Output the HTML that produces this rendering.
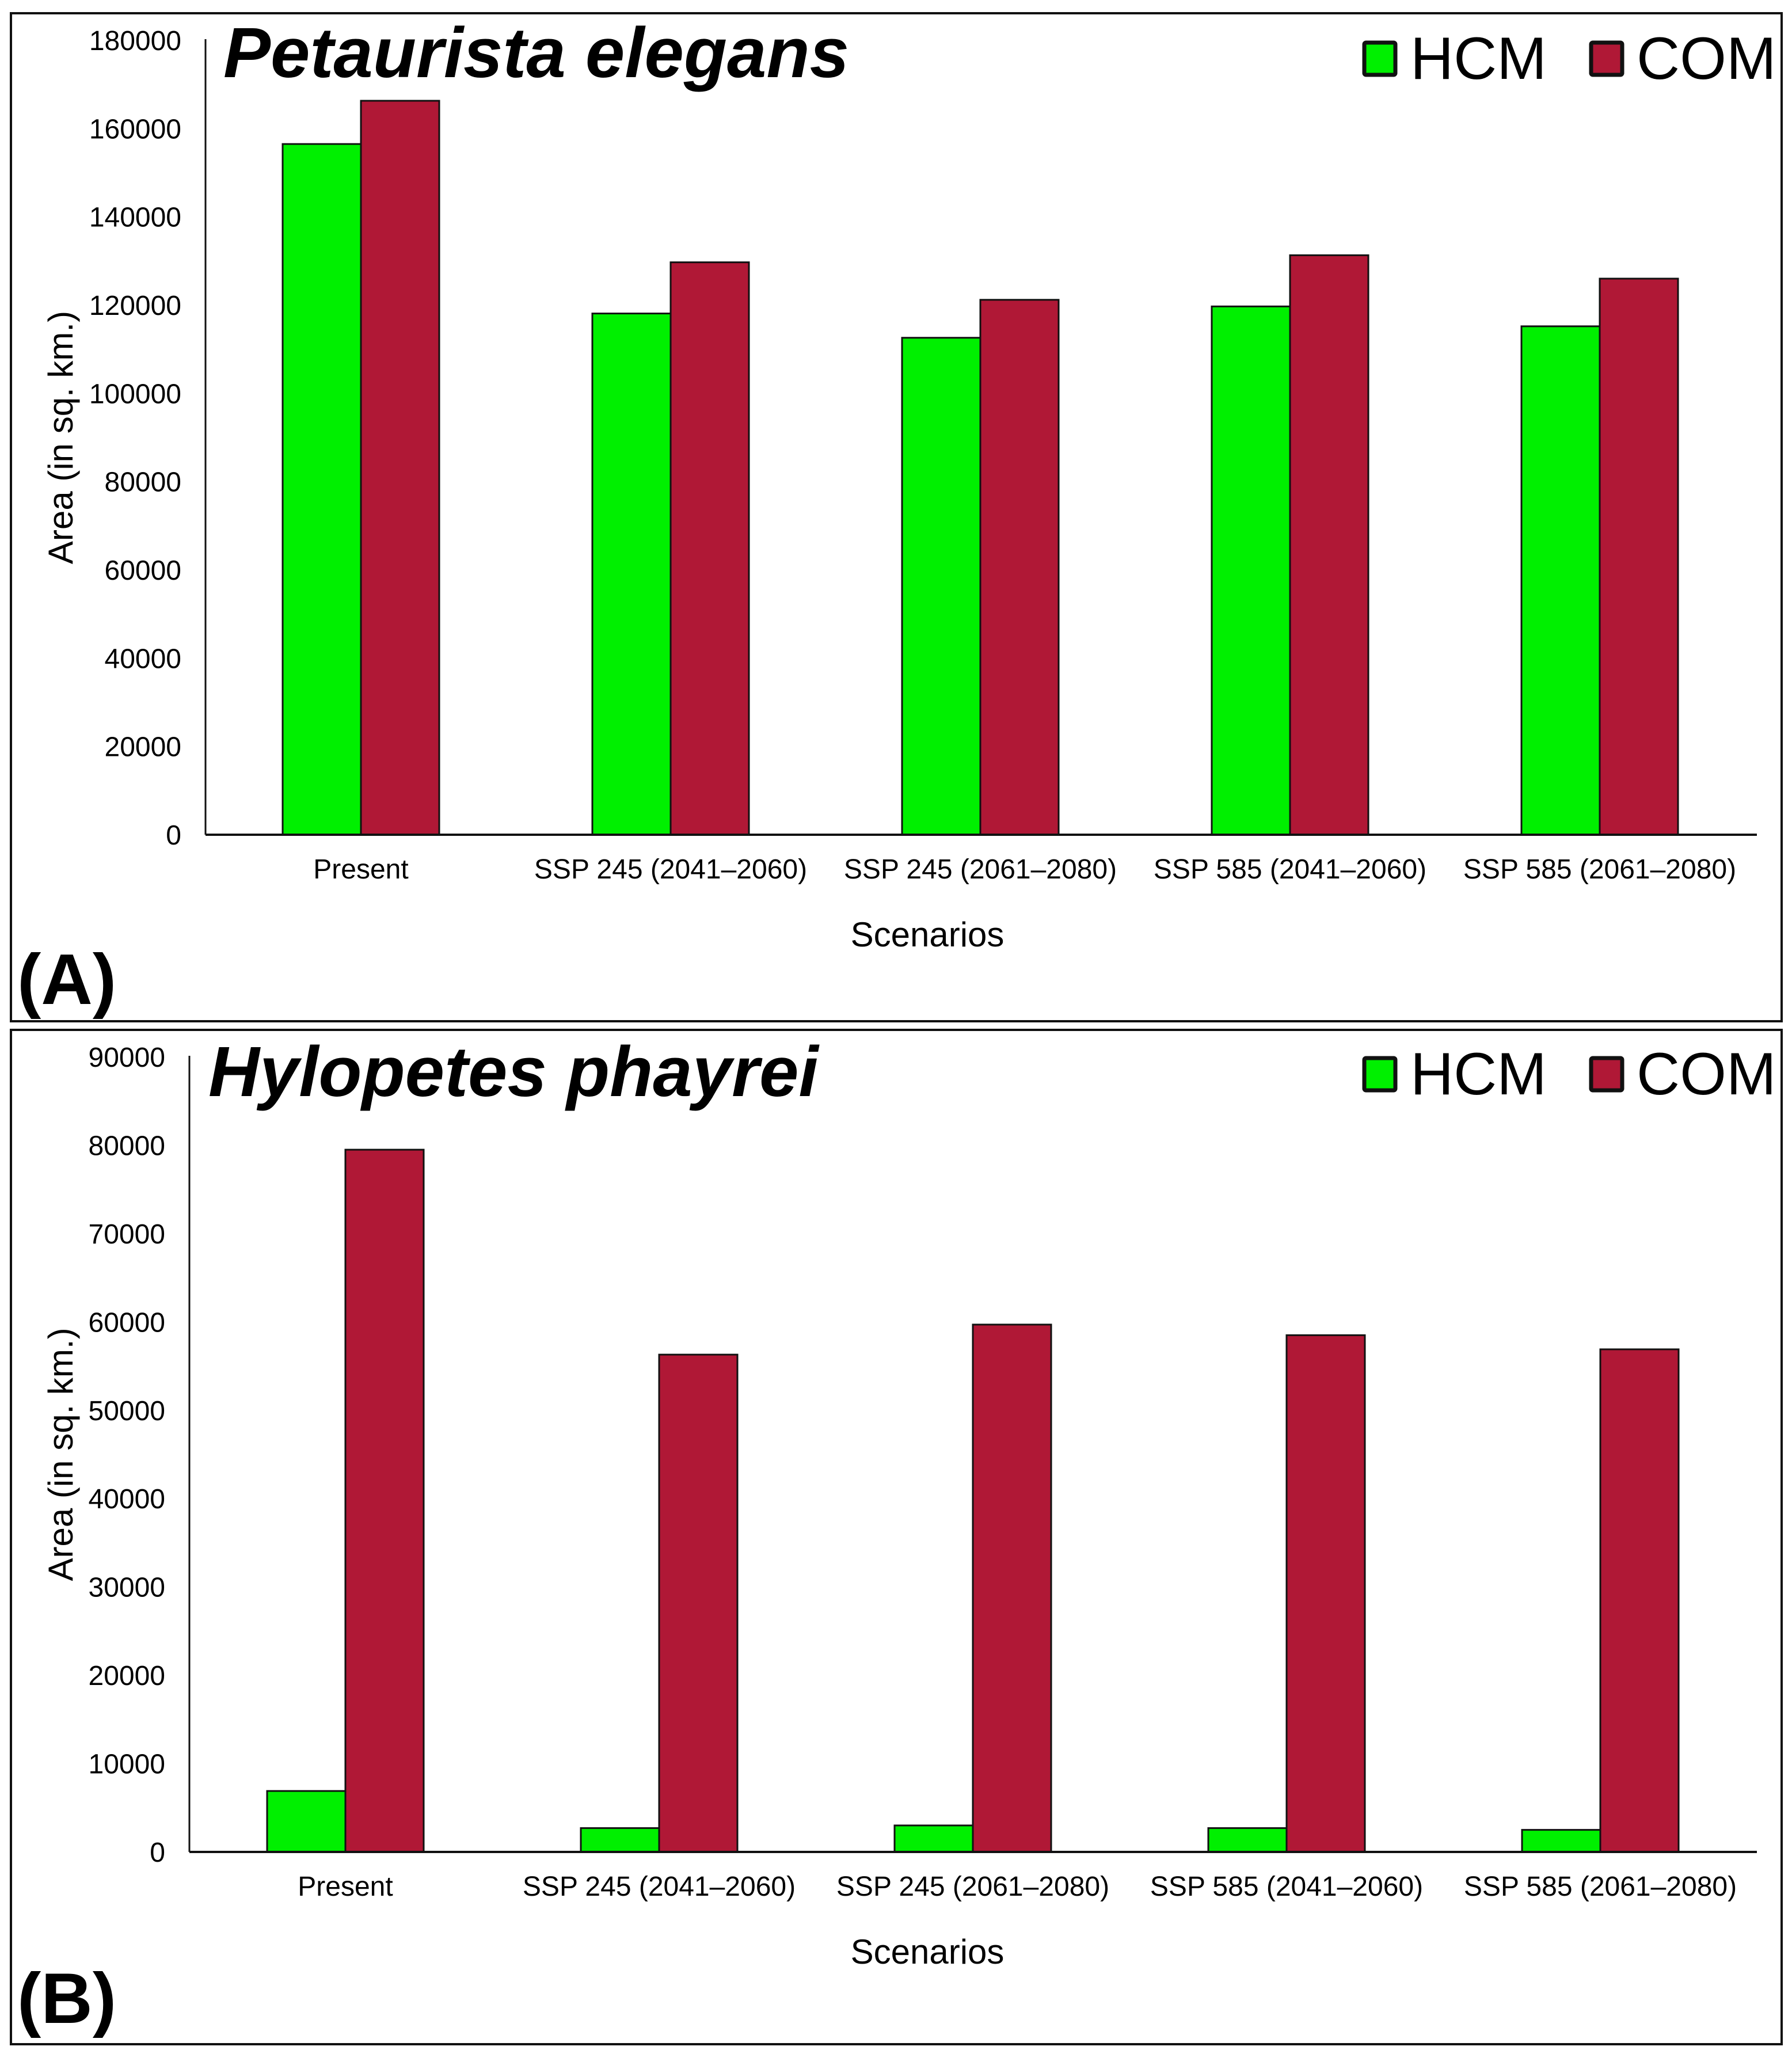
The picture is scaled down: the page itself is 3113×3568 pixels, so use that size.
<!DOCTYPE html>
<html><head><meta charset="utf-8">
<style>
html,body{margin:0;padding:0;background:#fff;}
svg{display:block;font-family:"Liberation Sans",Arial,sans-serif;}
</style></head>
<body>
<svg id="fig" width="3113" height="3568" viewBox="0 0 3113 3568" xmlns="http://www.w3.org/2000/svg">
<rect x="0" y="0" width="3113" height="3568" fill="#fff"/>
<rect x="19" y="23" width="3076" height="1751" fill="none" stroke="#111" stroke-width="4"/>
<rect x="19" y="1789" width="3076" height="1762" fill="none" stroke="#111" stroke-width="4"/>
<g id="panelA"></g>
<g id="panelB"></g>
</svg>
<script>
const categories = ["Present","SSP 245 (2041\u20132060)","SSP 245 (2061\u20132080)","SSP 585 (2041\u20132060)","SSP 585 (2061\u20132080)"];
const hcmA = [156500,118100,112600,119700,115200];
const comA = [166300,129700,121200,131300,126000];
const ticksA = [0,20000,40000,60000,80000,100000,120000,140000,160000,180000];
const hcmB = [6900,2700,3000,2700,2500];
const comB = [79500,56300,59700,58500,56900];
const ticksB = [0,10000,20000,30000,40000,50000,60000,70000,80000,90000];

const NS="http://www.w3.org/2000/svg";
function mk(parent,tag,attrs,text){const e=document.createElementNS(NS,tag);for(const k in attrs)e.setAttribute(k,attrs[k]);if(text!==undefined)e.textContent=text;parent.appendChild(e);return e;}

function drawPanel(g,cfg){
  const yMax=cfg.ticks[cfg.ticks.length-1];
  const y=v=>cfg.y0-(v/yMax)*(cfg.y0-cfg.yTop);
  const x=i=>cfg.c0+i*cfg.step;
  const bw=136;
  cfg.ticks.forEach(t=>{
    const tl=mk(g,'text',{x:cfg.axisX-42,y:y(t)+17,'text-anchor':'end','font-size':48,fill:'#000'},String(t));
    
    
  });
  cfg.hcm.forEach((v,i)=>{
    const r=mk(g,'rect',{x:x(i)-bw,y:y(v),width:bw,height:cfg.y0-y(v),fill:'#00f000',stroke:'#111','stroke-width':3});
    
    
  });
  cfg.com.forEach((v,i)=>{
    const r=mk(g,'rect',{x:x(i),y:y(v),width:bw,height:cfg.y0-y(v),fill:'#b01836',stroke:'#111','stroke-width':3});
    
    
  });
  const ya=mk(g,'line',{x1:cfg.axisX,y1:cfg.yTop-2,x2:cfg.axisX,y2:cfg.y0,stroke:'#111','stroke-width':3});
  
  
  const xa=mk(g,'line',{x1:cfg.axisX,y1:cfg.y0,x2:3052,y2:cfg.y0,stroke:'#111','stroke-width':4});
  
  
  categories.forEach((c,i)=>{
    const t=mk(g,'text',{x:x(i),y:cfg.y0+76,'text-anchor':'middle','font-size':48,fill:'#000'},c);
    
    
  });
  const xt=mk(g,'text',{x:1611,y:cfg.y0+194,'text-anchor':'middle','font-size':60,fill:'#000'},'Scenarios');
  
  
  const yt=mk(g,'text',{x:0,y:0,'text-anchor':'middle','font-size':60,fill:'#000',transform:`translate(126,${(cfg.y0+cfg.yTop)/2}) rotate(-90)`},'Area (in sq. km.)');
  
  
  const ti=mk(g,'text',{x:cfg.titleX,y:cfg.titleY,'font-size':123,'font-weight':'bold','font-style':'italic',fill:'#000'},cfg.title);
  
  
  const pl=mk(g,'text',{x:30,y:cfg.labelY,'font-size':124,'font-weight':'bold',fill:'#000'},cfg.label);
  
  
  const ly=cfg.legendY;
  const l1=mk(g,'rect',{x:2370,y:ly,width:54,height:56,fill:'#00f000',stroke:'#111','stroke-width':7,rx:3});
  
  
  const lt1=mk(g,'text',{x:2450,y:ly+63,'font-size':104,fill:'#000'},'HCM');
  
  
  const l2=mk(g,'rect',{x:2764,y:ly,width:54,height:56,fill:'#b01836',stroke:'#111','stroke-width':7,rx:3});
  
  
  const lt2=mk(g,'text',{x:2843,y:ly+63,'font-size':104,fill:'#000'},'COM');
  
  
}
drawPanel(document.getElementById('panelA'),{hcm:hcmA,com:comA,ticks:ticksA,yTop:70,y0:1450,axisX:357,c0:627,step:538,title:'Petaurista elegans',titleX:388,titleY:134,label:'(A)',labelY:1744,legendY:74});
drawPanel(document.getElementById('panelB'),{hcm:hcmB,com:comB,ticks:ticksB,yTop:1836,y0:3217,axisX:329,c0:600,step:545,title:'Hylopetes phayrei',titleX:362,titleY:1904,label:'(B)',labelY:3514,legendY:1838});
</script>
</body></html>
